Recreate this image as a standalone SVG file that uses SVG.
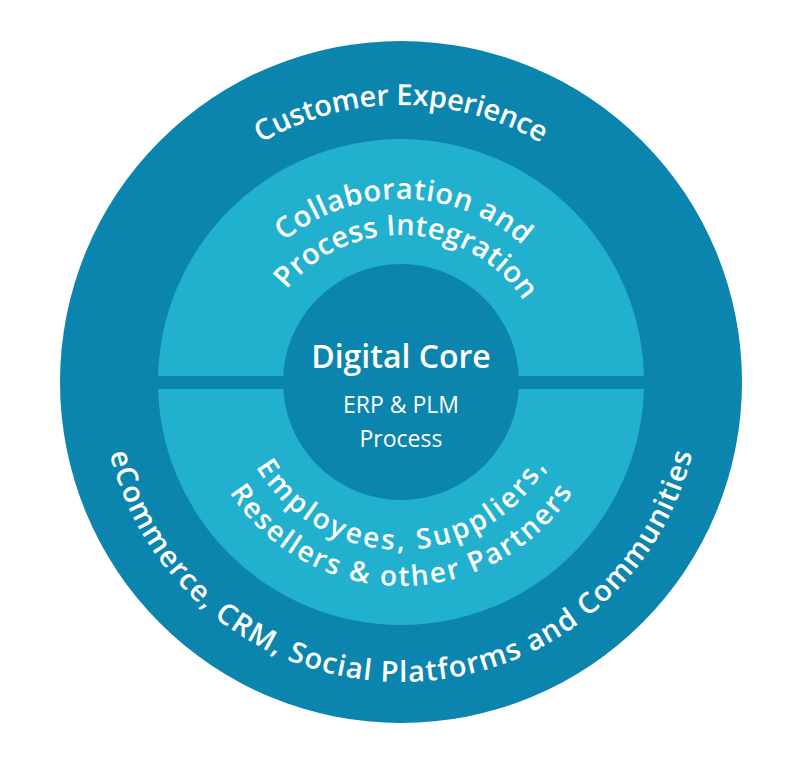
<svg xmlns="http://www.w3.org/2000/svg" width="800" height="778" viewBox="0 0 800 778">
<style>
.dark{fill:#0b85ad}
.light{fill:#22b0cf}
.t{font-family:"Open Sans","Noto Sans","Liberation Sans",sans-serif;fill:#fff;font-weight:600}
.r{font-family:"Open Sans","Noto Sans","Liberation Sans",sans-serif;fill:#fff;font-weight:400}
</style>
<defs>
<path id="pCust" d="M 124,382 A 277 277 0 0 1 678,382"/>
<path id="pCollab" d="M 218,382 A 183 183 0 0 1 584,382"/>
<path id="pProc" d="M 254,382 A 147 147 0 0 1 548,382"/>
<path id="pEmp" d="M 233,382 A 168 168 0 0 0 569,382"/>
<path id="pRes" d="M 197,382 A 204 204 0 0 0 605,382"/>
<path id="pEcom" d="M 101,382 A 300 300 0 0 0 701,382"/>
</defs>
<rect width="800" height="778" fill="#fff"/>
<g id="outer-ring">
<circle class="dark" cx="401" cy="382" r="341"/>
<text class="t" font-size="29"><textPath href="#pCust" startOffset="50%" text-anchor="middle" textLength="294" lengthAdjust="spacing">Customer Experience</textPath></text>
<text class="t" font-size="29"><textPath href="#pEcom" startOffset="50%" text-anchor="middle" textLength="798" lengthAdjust="spacing">eCommerce, CRM, Social Platforms and Communities</textPath></text>
</g>
<g id="middle-ring">
<circle class="light" cx="401" cy="382" r="243"/>
<rect class="dark" x="150" y="376" width="502" height="13"/>
<text class="t" font-size="29"><textPath href="#pCollab" startOffset="50.5%" text-anchor="middle" textLength="260" lengthAdjust="spacing">Collaboration and</textPath></text>
<text class="t" font-size="29"><textPath href="#pProc" startOffset="51.5%" text-anchor="middle" textLength="276" lengthAdjust="spacing">Process Integration</textPath></text>
<text class="t" font-size="28"><textPath href="#pEmp" startOffset="50%" text-anchor="middle" textLength="350" lengthAdjust="spacing">Employees, Suppliers,</textPath></text>
<text class="t" font-size="28"><textPath href="#pRes" startOffset="50%" text-anchor="middle" textLength="408" lengthAdjust="spacing">Resellers &amp; other Partners</textPath></text>
</g>
<g id="digital-core">
<circle class="dark" cx="401" cy="382" r="118"/>
<text class="t" font-size="32" x="401" y="368" text-anchor="middle">Digital Core</text>
<text class="r" font-size="23" x="401" y="413" text-anchor="middle">ERP &amp; PLM</text>
<text class="r" font-size="23" x="401" y="447" text-anchor="middle">Process</text>
</g>
<g id="connectors"/>
</svg>
